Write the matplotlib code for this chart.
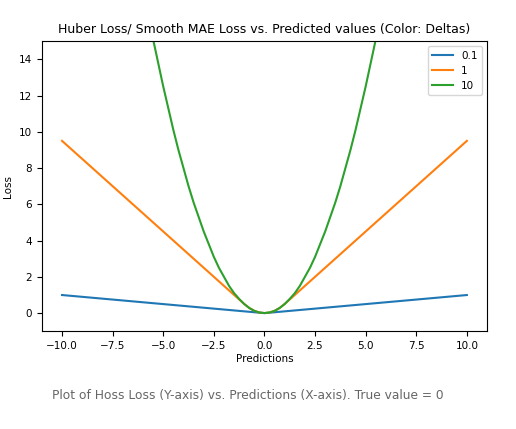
import matplotlib
matplotlib.use('Agg')
import matplotlib.pyplot as plt

# values
x_blue = [-10, -5, -0.1, 0, 0.1, 5, 10]
y_blue = [0.995, 0.495, 0.005, 0, 0.005, 0.495, 0.995]

x_orange = [-10, -5, -2, -1, -0.75, -0.5, -0.25, 0, 0.25, 0.5, 0.75, 1, 2, 5, 10]
y_orange = [9.5, 4.5, 1.5, 0.5, 0.28, 0.125, 0.03, 0, 0.03, 0.125, 0.28, 0.5, 1.5, 4.5, 9.5]

x_green = [-6, -5.75, -5.5, -5.25, -5, -4.75, -4.5, -4.25, -4, -3.75, -3.5, -3.25,
           -3, -2.75, -2.5, -2.25, -2, -1.75, -1.5, -1.25, -1, -0.75, -0.5, -0.25, 0,
           0.25, 0.5, 0.75, 1, 1.25, 1.5, 1.75, 2, 2.25, 2.5, 2.75, 3, 3.25, 3.5,
           3.75, 4, 4.25, 4.5, 4.75, 5, 5.25, 5.5, 5.75, 6]
y_green = [18, 16.5, 15.1, 13.8, 12.5, 11.3, 10.1, 9.0, 8, 7.0, 6.1, 5.3,
           4.5, 3.8, 3.1, 2.5, 2, 1.5, 1.1, 0.78, 0.5, 0.28, 0.12, 0.03, 0,
           0.03, 0.12, 0.28, 0.5, 0.78, 1.1, 1.5, 2, 2.5, 3.1, 3.8, 4.5, 5.3, 6.1,
           7.0, 8, 9.0, 10.1, 11.3, 12.5, 13.8, 15.1, 16.5, 18]

labels = ['0.1', '1', '10']

fig = plt.figure(figsize=(5.16, 4.29), dpi=100)
ax = fig.add_axes([0.081, 0.228, 0.863, 0.676])
ax.plot(x_blue, y_blue, color='#1f77b4', label=labels[0])
ax.plot(x_orange, y_orange, color='#ff7f0e', label=labels[1])
ax.plot(x_green, y_green, color='#2ca02c', label=labels[2])
ax.set_xlim(-11, 11)
ax.set_ylim(-1, 15)
ax.tick_params(labelsize=7.5)
ax.set_xlabel('Predictions', fontsize=7.5, labelpad=2)
ax.set_ylabel('Loss', fontsize=7.5)
ax.set_title('Huber Loss/ Smooth MAE Loss vs. Predicted values (Color: Deltas)', fontsize=9)
ax.legend(loc='upper right', fontsize=7.5)
fig.text(0.1, 0.07, 'Plot of Hoss Loss (Y-axis) vs. Predictions (X-axis). True value = 0',
         fontsize=8.8, color='#666666')
fig.savefig('out.png', dpi=100)
